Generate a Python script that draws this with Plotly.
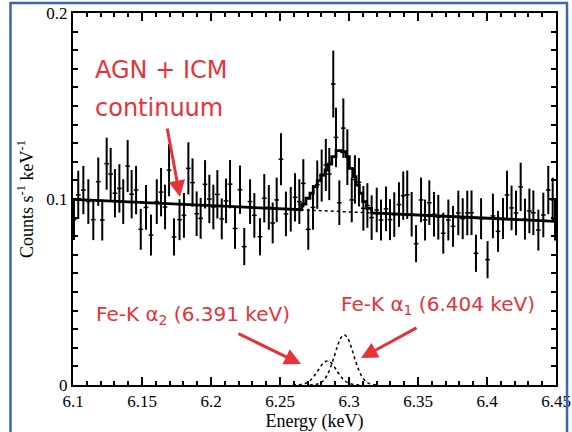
import numpy as np
import plotly.graph_objects as go

# ---------------- data ----------------
energy = [6.1007, 6.1038, 6.1075, 6.1111, 6.1147, 6.1183, 6.1212, 6.1244, 6.1273, 6.1304,
          6.1336, 6.1364, 6.1396, 6.1425, 6.1457, 6.1491, 6.1529, 6.1565, 6.1607, 6.1638,
          6.1667, 6.1696, 6.1732, 6.1772, 6.1804, 6.1836, 6.1866, 6.1896, 6.1925, 6.1957,
          6.1988, 6.2017, 6.2046, 6.2078, 6.2109, 6.2138, 6.2174, 6.2210, 6.2241, 6.2283,
          6.2314, 6.2355, 6.2386, 6.2419, 6.2447, 6.2476, 6.2507, 6.2543, 6.2578, 6.2609,
          6.2640, 6.2669, 6.2705, 6.2739, 6.2770, 6.2802, 6.2832, 6.2857, 6.2886, 6.2906,
          6.2930, 6.2959, 6.2988, 6.3020, 6.3043, 6.3072, 6.3104, 6.3133, 6.3164, 6.3201,
          6.3232, 6.3268, 6.3297, 6.3328, 6.3362, 6.3393, 6.3422, 6.3454, 6.3486, 6.3522,
          6.3551, 6.3582, 6.3616, 6.3647, 6.3683, 6.3720, 6.3754, 6.3792, 6.3824, 6.3857,
          6.3888, 6.3920, 6.3957, 6.4004, 6.4043, 6.4080, 6.4116, 6.4145, 6.4178, 6.4210,
          6.4244, 6.4275, 6.4307, 6.4336, 6.4372, 6.4408, 6.4444, 6.4476, 6.4493]
counts = [0.0889, 0.1022, 0.1048, 0.0986, 0.0889, 0.1093, 0.0887, 0.1190, 0.1134, 0.1031,
          0.1057, 0.0986, 0.1177, 0.1026, 0.1048, 0.0837, 0.0955, 0.0806, 0.0986, 0.1037,
          0.0957, 0.1155, 0.0796, 0.0889, 0.0912, 0.1165, 0.1088, 0.0921, 0.0896, 0.1079,
          0.1000, 0.0957, 0.1025, 0.0893, 0.0990, 0.1080, 0.0842, 0.1050, 0.0744, 0.0986,
          0.0912, 0.0797, 0.1004, 0.0955, 0.0871, 0.0995, 0.1214, 0.0920, 0.0945, 0.1009,
          0.0986, 0.1084, 0.0837, 0.0955, 0.1077, 0.1126, 0.1183, 0.1134, 0.1618, 0.1331,
          0.0980, 0.1381, 0.1225, 0.0995, 0.1105, 0.1090, 0.0950, 0.0965, 0.0900, 0.0941,
          0.0887, 0.0947, 0.0889, 0.0916, 0.0970, 0.1018, 0.1023, 0.0918, 0.0760, 0.0995,
          0.0887, 0.0980, 0.0918, 0.0902, 0.0816, 0.0887, 0.0853, 0.0925, 0.0894, 0.0925,
          0.0926, 0.0708, 0.0894, 0.0674, 0.0909, 0.0826, 0.0895, 0.1022, 0.0952, 0.0925,
          0.1065, 0.0892, 0.0936, 0.0926, 0.0833, 0.0914, 0.1048, 0.0995, 0.0887]
count_err = [0.011, 0.013, 0.013, 0.012, 0.011, 0.013, 0.011, 0.014, 0.014, 0.013,
             0.013, 0.012, 0.014, 0.013, 0.013, 0.011, 0.012, 0.011, 0.012, 0.013,
             0.012, 0.014, 0.010, 0.011, 0.012, 0.014, 0.013, 0.012, 0.011, 0.013,
             0.013, 0.012, 0.013, 0.011, 0.012, 0.013, 0.011, 0.013, 0.010, 0.012,
             0.012, 0.010, 0.013, 0.012, 0.011, 0.012, 0.014, 0.012, 0.012, 0.013,
             0.012, 0.013, 0.011, 0.012, 0.013, 0.014, 0.014, 0.014, 0.018, 0.016,
             0.012, 0.016, 0.015, 0.012, 0.013, 0.013, 0.012, 0.012, 0.012, 0.012,
             0.011, 0.012, 0.011, 0.012, 0.012, 0.013, 0.013, 0.012, 0.010, 0.012,
             0.011, 0.012, 0.012, 0.012, 0.011, 0.011, 0.011, 0.012, 0.011, 0.012,
             0.012, 0.010, 0.011, 0.010, 0.012, 0.011, 0.011, 0.013, 0.012, 0.012,
             0.013, 0.011, 0.012, 0.012, 0.011, 0.012, 0.013, 0.012, 0.011]
BIN_HALF = 0.0017

# continuum model (straight line)
cont_e = [6.10, 6.45]
cont_v = [0.0998, 0.0880]

# continuum + lines model (stepped) near the peak
step_edges = [6.2657, 6.2688, 6.2717, 6.2741, 6.2770, 6.2795, 6.2826, 6.2850, 6.2875, 6.2906,
              6.2947, 6.2978, 6.3002, 6.3027, 6.3051, 6.3075, 6.3099, 6.3128, 6.3164]
step_levels = [0.0973, 0.1004, 0.1031, 0.1066, 0.1099, 0.1129, 0.1156, 0.1188, 0.1228,
               0.1260, 0.1254, 0.1228, 0.1165, 0.1120, 0.1075, 0.1031, 0.0986, 0.0950]

# Fe-K alpha 1 line component
ka1_e = [6.2715, 6.2740, 6.2765, 6.2790, 6.2815, 6.2840, 6.2865, 6.2890, 6.2915, 6.2940, 6.2965,
         6.2990, 6.3015, 6.3040, 6.3065, 6.3090, 6.3115, 6.3140, 6.3165, 6.3190, 6.3215]
ka1_v = [0.0000, 0.0001, 0.0004, 0.0010, 0.0024, 0.0050, 0.0092, 0.0147, 0.0206, 0.0252, 0.0270,
         0.0252, 0.0206, 0.0147, 0.0092, 0.0050, 0.0024, 0.0010, 0.0004, 0.0001, 0.0000]
# Fe-K alpha 2 line component
ka2_e = [6.2593, 6.2618, 6.2643, 6.2668, 6.2693, 6.2718, 6.2743, 6.2768, 6.2793, 6.2818, 6.2843,
         6.2868, 6.2893, 6.2918, 6.2943, 6.2968, 6.2993, 6.3018, 6.3043, 6.3068, 6.3093]
ka2_v = [0.0000, 0.0001, 0.0002, 0.0005, 0.0011, 0.0024, 0.0044, 0.0070, 0.0098, 0.0121, 0.0129,
         0.0121, 0.0098, 0.0070, 0.0044, 0.0024, 0.0011, 0.0005, 0.0002, 0.0001, 0.0000]

x_ticks = [6.1, 6.15, 6.2, 6.25, 6.3, 6.35, 6.4, 6.45]
x_ticktext = ["6.1", "6.15", "6.2", "6.25", "6.3", "6.35", "6.4", "6.45"]
y_ticks = [0, 0.1, 0.2]
y_ticktext = ["0", "0.1", "0.2"]

RED = "#e8323a"

# ---------------- build model polyline ----------------
mx = [cont_e[0], step_edges[0]]
my = [cont_v[0], float(np.interp(step_edges[0], cont_e, cont_v))]
for i, lv in enumerate(step_levels):
    mx += [step_edges[i], step_edges[i + 1]]
    my += [lv, lv]
mx += [step_edges[-1], cont_e[1]]
my += [float(np.interp(step_edges[-1], cont_e, cont_v)), cont_v[1]]

fig = go.Figure()

# dotted continuum
fig.add_trace(go.Scatter(x=cont_e, y=cont_v, mode="lines",
                         line=dict(color="black", width=1.5, dash="dot"), hoverinfo="skip"))
# line components
fig.add_trace(go.Scatter(x=ka2_e, y=ka2_v, mode="lines", line_shape="spline",
                         line=dict(color="black", width=1.5, dash="dot"), hoverinfo="skip"))
fig.add_trace(go.Scatter(x=ka1_e, y=ka1_v, mode="lines", line_shape="spline",
                         line=dict(color="black", width=1.5, dash="dot"), hoverinfo="skip"))
# data with error bars
fig.add_trace(go.Scatter(
    x=energy, y=counts, mode="markers",
    marker=dict(size=1, color="black"),
    error_y=dict(type="data", array=count_err, color="black", thickness=2, width=0),
    error_x=dict(type="constant", value=BIN_HALF, color="black", thickness=1.5, width=0),
))
# full model
fig.add_trace(go.Scatter(x=mx, y=my, mode="lines",
                         line=dict(color="black", width=2.8), hoverinfo="skip"))

# ---------------- annotations ----------------
ann_font = dict(family="DejaVu Sans", color=RED)
fig.add_annotation(x=6.1145, y=0.1694, text="AGN + ICM", showarrow=False,
                   xanchor="left", yanchor="middle", font=dict(size=24, **ann_font))
fig.add_annotation(x=6.1145, y=0.1489, text="continuum", showarrow=False,
                   xanchor="left", yanchor="middle", font=dict(size=24, **ann_font))
fig.add_annotation(x=6.1155, y=0.0376, text="Fe-K α<sub>2</sub> (6.391 keV)", showarrow=False,
                   xanchor="left", yanchor="middle", font=dict(size=20, **ann_font))
fig.add_annotation(x=6.2930, y=0.0430, text="Fe-K α<sub>1</sub> (6.404 keV)", showarrow=False,
                   xanchor="left", yanchor="middle", font=dict(size=20, **ann_font))
# arrows
for (tx, ty, ax, ay) in [(6.1775, 0.1011, -13, -70), (6.2652, 0.0113, -64, -31),
                         (6.3087, 0.0145, 57, -31)]:
    fig.add_annotation(x=tx, y=ty, ax=ax, ay=ay, text="", showarrow=True,
                       arrowhead=2, arrowsize=1.1, arrowwidth=3, arrowcolor=RED)

# blue frame
fig.add_shape(type="rect", xref="paper", yref="paper",
              x0=-0.1294, x1=1.0228, y0=-0.25, y1=1.0269,
              line=dict(color="#3d63b3", width=2.5), layer="above")

axis_common = dict(showline=True, linecolor="black", linewidth=2, mirror="allticks",
                   ticks="inside", ticklen=8, tickwidth=1.5, tickcolor="black",
                   showgrid=False, zeroline=False, automargin=False,
                   tickfont=dict(family="Liberation Serif", size=17, color="black"))
fig.update_xaxes(range=[6.1, 6.45], tickvals=x_ticks, ticktext=x_ticktext,
                 minor=dict(ticks="inside", ticklen=4, tickwidth=1.5, tickcolor="black",
                            dtick=0.01, tick0=6.1, showgrid=False),
                 title=dict(text="Energy (keV)", standoff=8,
                            font=dict(family="Liberation Serif", size=18, color="black")),
                 **axis_common)
fig.update_yaxes(range=[0, 0.2], tickvals=y_ticks, ticktext=y_ticktext,
                 minor=dict(ticks="inside", ticklen=5, tickwidth=1.5, tickcolor="black",
                            dtick=0.01, tick0=0, showgrid=False),
                 title=dict(text="Counts s<sup>-1</sup> keV<sup>-1</sup>", standoff=8,
                            font=dict(family="Liberation Serif", size=18, color="black")),
                 **axis_common)

fig.update_layout(width=572, height=432, showlegend=False,
                  margin=dict(l=73, r=16, t=13, b=47),
                  paper_bgcolor="white", plot_bgcolor="white")

fig.write_html("out.html")
